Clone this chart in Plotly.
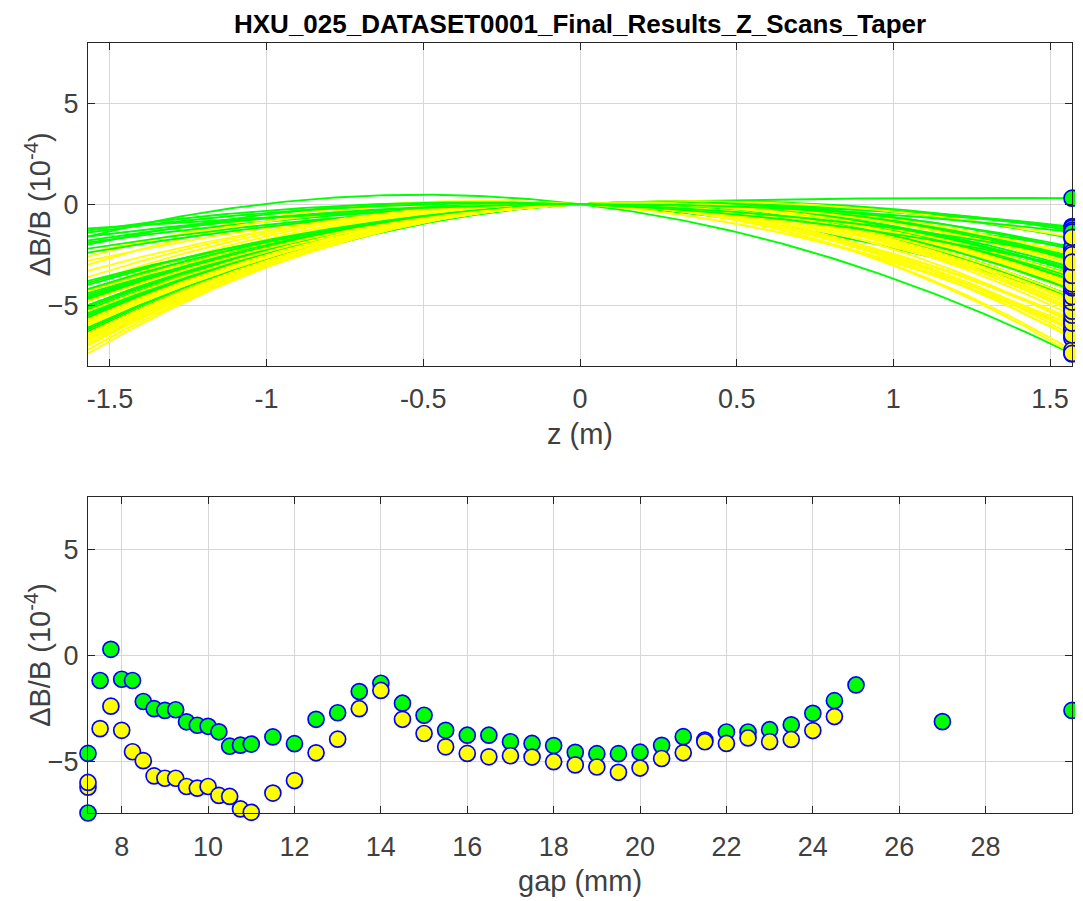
import numpy as np
import plotly.graph_objects as go

TITLE = "HXU_025_DATASET0001_Final_Results_Z_Scans_Taper"

# z half-length of the scan (m) and axis limits
Z_HALF = 1.57
TOP_YLIM = [-8.0, 8.0]
BOT_YLIM = [-7.42, 7.5]
BOT_XLIM = [7.22, 30.0]

# ---- green series: gap (mm), dB/B at +z end (1e-4), dB/B at -z end (1e-4)
gap_green = [7.22, 7.22, 7.5, 7.75, 8.0, 8.25, 8.5, 8.75, 9.0, 9.25, 9.5, 9.75,
             10.0, 10.25, 10.5, 10.75, 11.0, 11.5, 12.0, 12.5, 13.0, 13.5, 14.0,
             14.5, 15.0, 15.5, 16.0, 16.5, 17.0, 17.5, 18.0, 18.5, 19.0, 19.5,
             20.0, 20.5, 21.0, 21.5, 22.0, 22.5, 23.0, 23.5, 24.0, 24.5, 25.0,
             27.0, 30.0]
dbb_green = [-4.61, -7.42, -1.17, 0.30, -1.11, -1.17, -2.16, -2.50, -2.58, -2.55,
             -3.12, -3.28, -3.33, -3.59, -4.27, -4.22, -4.17, -3.83, -4.15, -3.00,
             -2.69, -1.69, -1.30, -2.24, -2.81, -3.52, -3.75, -3.75, -4.06, -4.14,
             -4.24, -4.56, -4.62, -4.62, -4.55, -4.23, -3.82, -3.98, -3.60, -3.60,
             -3.49, -3.26, -2.72, -2.12, -1.38, -3.11, -2.58]
dbb_green_left = [-2.0, -1.6, -1.9, -1.2, -2.2, -2.4, -1.8, -4.0, -4.3, -4.5,
                  -4.7, -5.0, -5.1, -5.4, -5.8, -6.0, -6.1, -6.6, -6.3, -5.5,
                  -5.2, -4.4, -3.8, -4.6, -5.0, -5.3, -5.4, -5.5, -5.6, -5.7,
                  -5.8, -6.0, -6.1, -6.2, -6.0, -5.7, -5.4, -5.3, -5.1, -5.0,
                  -4.8, -4.6, -4.2, -3.9, -1.6, -1.3, -1.4]

# ---- yellow series
gap_yellow = [7.22, 7.22, 7.5, 7.75, 8.0, 8.25, 8.5, 8.75, 9.0, 9.25, 9.5, 9.75,
              10.0, 10.25, 10.5, 10.75, 11.0, 11.5, 12.0, 12.5, 13.0, 13.5, 14.0,
              14.5, 15.0, 15.5, 16.0, 16.5, 17.0, 17.5, 18.0, 18.5, 19.0, 19.5,
              20.0, 20.5, 21.0, 21.5, 22.0, 22.5, 23.0, 23.5, 24.0, 24.5]
dbb_yellow = [-6.20, -5.98, -3.44, -2.38, -3.52, -4.53, -4.95, -5.67, -5.78, -5.78,
              -6.17, -6.25, -6.17, -6.59, -6.64, -7.23, -7.39, -6.48, -5.89, -4.58,
              -3.94, -2.50, -1.64, -3.00, -3.67, -4.30, -4.61, -4.77, -4.72, -4.78,
              -5.00, -5.15, -5.25, -5.50, -5.30, -4.85, -4.58, -4.06, -4.14, -3.88,
              -4.06, -3.95, -3.53, -2.87]
dbb_yellow_left = [-3.0, -2.6, -2.4, -2.8, -3.3, -3.6, -3.9, -4.3, -4.6, -4.8,
                   -5.1, -5.4, -5.7, -6.0, -6.3, -6.7, -7.0, -7.4, -7.2, -6.6,
                   -6.0, -5.0, -4.3, -5.3, -5.8, -6.2, -6.4, -6.5, -6.5, -6.6,
                   -6.8, -6.9, -7.0, -7.2, -7.0, -6.7, -6.4, -6.0, -6.0, -5.8,
                   -5.9, -5.7, -5.3, -4.8]

x_ticks_top = [-1.5, -1, -0.5, 0, 0.5, 1, 1.5]
x_ticks_bot = [8, 10, 12, 14, 16, 18, 20, 22, 24, 26, 28]
y_ticks = [-5, 0, 5]

GREEN = "#00ff00"
YELLOW = "#ffff00"
EDGE = "#0000ff"
FONT = "Liberation Sans"
AXC = "#262626"
TXC = "#404040"
TICK_SIZE = 27
LABEL_SIZE = 29
TITLE_SIZE = 26

z = np.linspace(-Z_HALF, Z_HALF, 200)


def quad_curve(right, left):
    # quadratic through origin with given values at z=+Z_HALF and z=-Z_HALF
    a = (right - left) / (2 * Z_HALF)
    b = (right + left) / (2 * Z_HALF ** 2)
    return a * z + b * z ** 2


fig = go.Figure()

n = max(len(gap_green), len(gap_yellow))
for i in range(n):
    if i < len(gap_green):
        fig.add_trace(go.Scatter(x=z, y=quad_curve(dbb_green[i], dbb_green_left[i]),
                                 mode="lines", line=dict(color=GREEN, width=1.9),
                                 xaxis="x", yaxis="y", showlegend=False, hoverinfo="skip"))
    if i < len(gap_yellow):
        fig.add_trace(go.Scatter(x=z, y=quad_curve(dbb_yellow[i], dbb_yellow_left[i]),
                                 mode="lines", line=dict(color=YELLOW, width=1.9),
                                 xaxis="x", yaxis="y", showlegend=False, hoverinfo="skip"))

marker_common = dict(size=16, line=dict(color=EDGE, width=1.7))
fig.add_trace(go.Scatter(x=[Z_HALF] * len(dbb_green), y=dbb_green, mode="markers",
                         marker=dict(color=GREEN, **marker_common), cliponaxis=False,
                         xaxis="x", yaxis="y", showlegend=False))
fig.add_trace(go.Scatter(x=[Z_HALF] * len(dbb_yellow), y=dbb_yellow, mode="markers",
                         marker=dict(color=YELLOW, **marker_common), cliponaxis=False,
                         xaxis="x", yaxis="y", showlegend=False))

fig.add_trace(go.Scatter(x=gap_green, y=dbb_green, mode="markers",
                         marker=dict(color=GREEN, **marker_common), cliponaxis=False,
                         xaxis="x2", yaxis="y2", showlegend=False))
fig.add_trace(go.Scatter(x=gap_yellow, y=dbb_yellow, mode="markers",
                         marker=dict(color=YELLOW, **marker_common), cliponaxis=False,
                         xaxis="x2", yaxis="y2", showlegend=False))

# page body adds an 8px offset; figure is sized and positioned to compensate
OFF = 8
W, H = 1083 - OFF, 901 - OFF
xd = [(88 - OFF) / W, (1072 - OFF) / W]
top_px = [42.7 - OFF, 365.7 - OFF]
bot_px = [496.7 - OFF, 813.0 - OFF]
top_dom = [1 - top_px[1] / H, 1 - top_px[0] / H]
bot_dom = [1 - bot_px[1] / H, 1 - bot_px[0] / H]

axis_common = dict(showline=True, linecolor=AXC, linewidth=1.3, mirror="ticks",
                   ticks="inside", ticklen=7, tickcolor=AXC, tickwidth=1,
                   showgrid=True, gridcolor="#d6d6d6", gridwidth=1, zeroline=False,
                   automargin=False,
                   tickfont=dict(family=FONT, size=TICK_SIZE, color=TXC))

ytitle = "ΔB/B (10<sup>-4</sup>)"
lab_font = dict(family=FONT, size=LABEL_SIZE, color=TXC)
xc = (xd[0] + xd[1]) / 2

fig.update_layout(
    width=W, height=H,
    margin=dict(l=0, r=0, t=0, b=0, autoexpand=False),
    paper_bgcolor="white", plot_bgcolor="white",
    xaxis=dict(domain=xd, anchor="y", range=[-Z_HALF, Z_HALF], tickvals=x_ticks_top,
               ticktext=[f"{v:g}" for v in x_ticks_top], ticklabelstandoff=9,
               **axis_common),
    yaxis=dict(domain=top_dom, anchor="x", range=TOP_YLIM, tickvals=y_ticks,
               ticklabelstandoff=3, **axis_common),
    xaxis2=dict(domain=xd, anchor="y2", range=BOT_XLIM, tickvals=x_ticks_bot,
                ticklabelstandoff=9, **axis_common),
    yaxis2=dict(domain=bot_dom, anchor="x2", range=BOT_YLIM, tickvals=y_ticks,
                ticklabelstandoff=3, **axis_common),
    annotations=[
        dict(text=f"<b>{TITLE}</b>", x=xc, y=1.0,
             xref="paper", yref="paper", showarrow=False, xanchor="center",
             yanchor="top", borderpad=0,
             font=dict(family=FONT, size=TITLE_SIZE, color="#000000")),
        dict(text="z (m)", x=xc, y=1 - (434 - OFF) / H, xref="paper", yref="paper",
             showarrow=False, xanchor="center", yanchor="middle", font=lab_font),
        dict(text="gap (mm)", x=xc, y=1 - (881 - OFF) / H, xref="paper", yref="paper",
             showarrow=False, xanchor="center", yanchor="middle", font=lab_font),
        dict(text=ytitle, x=(38 - OFF) / W, y=1 - (top_px[0] + top_px[1]) / 2 / H,
             xref="paper", yref="paper", showarrow=False, xanchor="center",
             yanchor="middle", textangle=-90, font=lab_font),
        dict(text=ytitle, x=(38 - OFF) / W, y=1 - (bot_px[0] + bot_px[1]) / 2 / H,
             xref="paper", yref="paper", showarrow=False, xanchor="center",
             yanchor="middle", textangle=-90, font=lab_font),
    ],
)

fig.write_html("out.html")
